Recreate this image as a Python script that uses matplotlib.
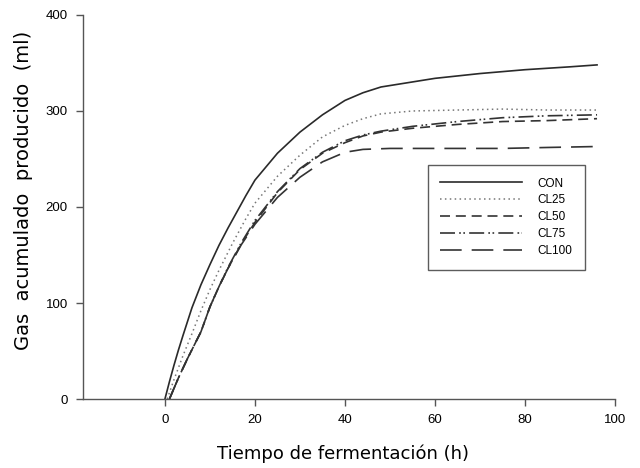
import matplotlib
matplotlib.use("Agg")
import matplotlib.pyplot as plt

# tiempo (h) y gas acumulado (ml)
t_con = [0, 1, 2, 3, 4, 6, 8, 10, 12, 14, 16, 18, 20, 25, 30, 35, 40, 44, 48, 52, 60, 70, 80, 90, 96]
gas_con = [0, 18, 35, 51, 66, 95, 119, 140, 160, 178, 195, 212, 228, 256, 278, 296, 311, 319, 325, 328, 334, 339, 343, 346, 348]

t_cl25 = [0.5, 2, 4, 6, 8, 10, 12, 15, 18, 20, 25, 30, 35, 40, 44, 48, 55, 65, 75, 85, 96]
gas_cl25 = [0, 20, 45, 68, 92, 114, 134, 162, 188, 204, 232, 254, 273, 285, 292, 297, 300, 301, 302, 301, 301]

t_cl50 = [1, 3, 5, 8, 10, 12, 14, 17, 20, 25, 30, 35, 40, 44, 48, 55, 65, 75, 85, 96]
gas_cl50 = [0, 22, 42, 70, 96, 117, 136, 162, 184, 215, 239, 256, 267, 274, 278, 282, 286, 289, 290, 292]

t_cl75 = [1, 3, 5, 8, 10, 12, 14, 17, 20, 25, 30, 35, 40, 44, 48, 55, 65, 75, 85, 96]
gas_cl75 = [0, 22, 42, 70, 96, 117, 137, 163, 186, 216, 240, 257, 269, 275, 279, 284, 289, 293, 295, 296]

t_cl100 = [1, 3, 5, 8, 10, 12, 14, 17, 20, 25, 30, 35, 40, 44, 50, 60, 75, 85, 96]
gas_cl100 = [0, 22, 42, 70, 96, 117, 136, 161, 182, 210, 231, 247, 257, 260, 261, 261, 261, 262, 263]

fig = plt.figure(figsize=(6.4, 4.68), dpi=100)
ax = fig.add_axes([0.1297, 0.1474, 0.8313, 0.8206])

ax.plot(t_con, gas_con, color="#2a2a2a", lw=1.2, label="CON")
ax.plot(t_cl25, gas_cl25, color="#777777", lw=1.1, linestyle=(0, (1, 2.2)), label="CL25")
ax.plot(t_cl50, gas_cl50, color="#333333", lw=1.2, linestyle=(0, (6, 3.5)), label="CL50")
ax.plot(t_cl75, gas_cl75, color="#333333", lw=1.2, linestyle=(0, (9, 2.5, 1, 1.5, 1, 2.5)), label="CL75")
ax.plot(t_cl100, gas_cl100, color="#333333", lw=1.2, linestyle=(0, (13, 6)), label="CL100")

ax.set_xlim(-18.2, 100)
ax.set_ylim(0, 400)
ax.set_xticks([0, 20, 40, 60, 80, 100])
ax.set_yticks([0, 100, 200, 300, 400])

for s in ["top", "right"]:
    ax.spines[s].set_visible(False)
for s in ["left", "bottom"]:
    ax.spines[s].set_color("#555555")
    ax.spines[s].set_linewidth(1.0)

ax.tick_params(direction="out", length=5, width=1, color="#555555",
               labelsize=9.5, pad=6)
for lab in ax.get_xticklabels() + ax.get_yticklabels():
    lab.set_family("Liberation Sans")

ax.set_ylabel("Gas  acumulado  producido  (ml)", fontsize=14, family="DejaVu Sans")
ax.set_xlabel("Tiempo de fermentación (h)", fontsize=13, family="DejaVu Sans")
ax.yaxis.set_label_coords(-0.094, 0.544)
ax.xaxis.set_label_coords(0.489, -0.118)

leg = ax.legend(loc="upper left", bbox_to_anchor=(0.6485, 0.609), frameon=True, fancybox=False,
                edgecolor="#333333", handlelength=6.9, handletextpad=1.35, labelspacing=0.42,
                borderpad=1.05, borderaxespad=0, prop={"family": "Liberation Sans", "size": 8.5})
leg.get_frame().set_linewidth(1.0)

fig.savefig("out.png", dpi=100)
